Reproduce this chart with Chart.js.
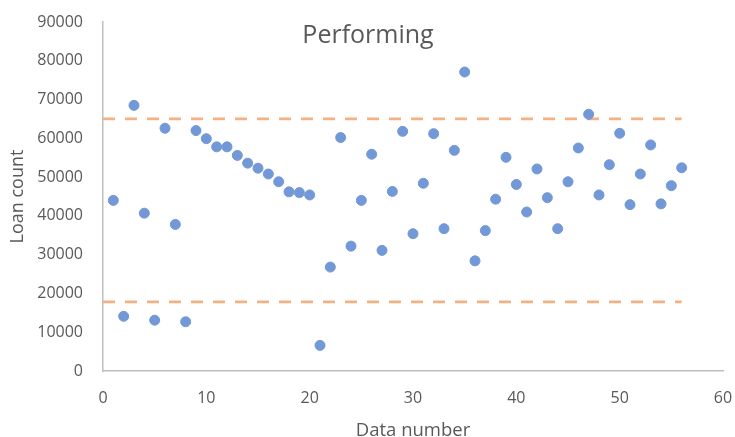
<!DOCTYPE html>
<html>
<head>
<meta charset="utf-8">
<script src="https://cdn.jsdelivr.net/npm/chart.js@4/dist/chart.umd.min.js"></script>
<style>
  html, body { margin: 0; padding: 0; background: #fff; }
  #wrap { width: 735px; height: 437px; position: relative; }
</style>
</head>
<body>
<div id="wrap"><canvas id="chart"></canvas></div>
<script>
// data
var dataNumbers = [1, 2, 3, 4, 5, 6, 7, 8, 9, 10, 11, 12, 13, 14, 15, 16, 17, 18, 19, 20,
  21, 22, 23, 24, 25, 26, 27, 28, 29, 30, 31, 32, 33, 34, 35, 36, 37, 38, 39, 40,
  41, 42, 43, 44, 45, 46, 47, 48, 49, 50, 51, 52, 53, 54, 55, 56];
var loanCounts = [44000, 14100, 68500, 40700, 13100, 62600, 37800, 12700, 62000, 59900,
  57800, 57800, 55600, 53600, 52300, 50800, 48800, 46200, 46000, 45400,
  6600, 26800, 60200, 32200, 44000, 55900, 31100, 46300, 61800, 35400,
  48400, 61200, 36700, 56900, 77100, 28400, 36200, 44300, 55100, 48100,
  41000, 52100, 44700, 36700, 48800, 57500, 66200, 45400, 53200, 61300,
  42900, 50800, 58300, 43100, 47800, 52400];
var limitX = [0, 56];
var upperLimit = [65000, 65000];
var lowerLimit = [17800, 17800];
var chartTitle = 'Performing';

function toPoints(xs, ys) {
  return xs.map(function (x, i) { return { x: x, y: ys[i] }; });
}

var FONT = '"Open Sans", "Noto Sans", sans-serif';
var TEXT = '#595959';

// title sits inside the plot area, so draw it by hand
var innerTitle = {
  id: 'innerTitle',
  afterDraw: function (chart) {
    var ctx = chart.ctx;
    ctx.save();
    ctx.font = '25px ' + FONT;
    ctx.fillStyle = TEXT;
    ctx.textAlign = 'center';
    ctx.textBaseline = 'middle';
    ctx.fillText(chartTitle, 368, 36);
    ctx.restore();
  }
};

new Chart(document.getElementById('chart'), {
  type: 'scatter',
  data: {
    datasets: [
      {
        label: 'Loan count',
        data: toPoints(dataNumbers, loanCounts),
        backgroundColor: 'rgb(114,152,216)',
        borderColor: 'rgb(114,152,216)',
        pointRadius: 5,
        pointHoverRadius: 5,
        order: 1
      },
      {
        label: 'Upper',
        data: toPoints(limitX, upperLimit),
        showLine: true,
        borderColor: 'rgb(244,177,131)',
        borderWidth: 2.75,
        borderDash: [12, 10],
        pointRadius: 0,
        order: 2
      },
      {
        label: 'Lower',
        data: toPoints(limitX, lowerLimit),
        showLine: true,
        borderColor: 'rgb(244,177,131)',
        borderWidth: 2.75,
        borderDash: [12, 10],
        pointRadius: 0,
        order: 2
      }
    ]
  },
  options: {
    responsive: true,
    maintainAspectRatio: false,
    animation: false,
    layout: { padding: { left: 0, top: 22, right: 12, bottom: 0 } },
    plugins: {
      legend: { display: false },
      tooltip: { enabled: false },
      title: { display: false }
    },
    scales: {
      x: {
        type: 'linear',
        min: 0,
        max: 60,
        ticks: { stepSize: 10, color: TEXT, font: { family: FONT, size: 16 }, padding: 18 },
        grid: { display: true, drawOnChartArea: false, drawTicks: false, color: '#bfbfbf' },
        border: { color: '#bfbfbf', width: 1.5 },
        title: { display: true, text: 'Data number', color: TEXT, font: { family: FONT, size: 18.5 }, padding: { top: 0, bottom: -5 } },
        afterFit: function (s) { s.height = 66; s.paddingLeft = 0; s.paddingRight = 0; }
      },
      y: {
        min: 0,
        max: 90000,
        ticks: {
          stepSize: 10000, color: TEXT, font: { family: FONT, size: 16 }, padding: 20,
          callback: function (v) { return String(v); }
        },
        grid: { display: true, drawOnChartArea: false, drawTicks: false, color: '#bfbfbf' },
        border: { color: '#bfbfbf', width: 1.5 },
        title: { display: true, text: 'Loan count', color: TEXT, font: { family: FONT, size: 18 }, padding: { top: 7, bottom: 0 } },
        afterFit: function (s) { s.width = 103; s.paddingTop = 0; s.paddingBottom = 0; }
      }
    }
  },
  plugins: [innerTitle]
});
</script>
</body>
</html>
